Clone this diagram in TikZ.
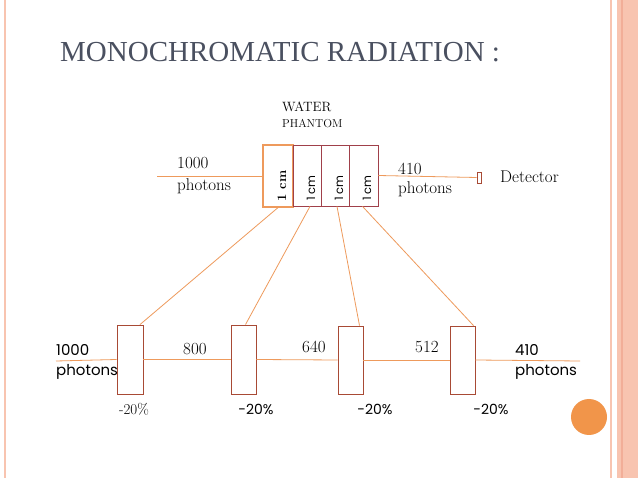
\documentclass[tikz,border=0pt]{standalone}
\usepackage{fontspec}
\newfontfamily\gsans{Poppins}
\newfontfamily\tser{Liberation Serif}
\begin{document}
\begin{tikzpicture}[x=1pt,y=-1pt,
  ray/.style={draw=lineor,line width=0.8pt},
  slab/.style={draw=slabc,line width=0.9pt},
  lbl/.style={inner sep=0pt,anchor=base west,font=\fontsize{17}{19}\selectfont},
  slbl/.style={inner sep=0pt,anchor=base west,font=\gsans\fontsize{15}{17}\selectfont},
  cmlbl/.style={rotate=90,inner sep=0pt,font=\gsans\fontsize{11.5}{13}\selectfont}]
\definecolor{lineor}{HTML}{EE9A5C}
\definecolor{slabc}{HTML}{A84A35}
\definecolor{redc}{HTML}{A0404A}
\definecolor{ttl}{HTML}{4A5060}
\definecolor{bord}{HTML}{F8C4B0}
\definecolor{bord2}{HTML}{F2AE98}
\useasboundingbox (0,0) rectangle (638,478);
\fill[white] (0,0) rectangle (638,478);
% borders
\draw[bord,line width=1.5pt] (5,0) -- (5,478);
\draw[bord,line width=1.5pt] (611,0) -- (611,478);
\fill[bord] (617,0) rectangle (638,478);
\draw[bord2,line width=1.5pt] (622,0) -- (622,478);
% title
\node[anchor=base west,inner sep=0pt,text=ttl,font=\tser\fontsize{29}{32}\selectfont] (title) at (60,62) {MONOCHROMATIC RADIATION :};
\node[anchor=base west,inner sep=0pt,font=\fontsize{13.5}{15}\selectfont] (wp1) at (282,112) {WATER};
\node[anchor=base west,inner sep=0pt,font=\fontsize{11.5}{13}\selectfont] (wp2) at (282,128) {PHANTOM};
% phantom slabs
\node[draw=lineor,line width=1.2pt,minimum width=30pt,minimum height=62pt,inner sep=0pt] (p1) at (278,176) {};
\node[draw=redc,line width=0.8pt,minimum width=28pt,minimum height=61pt,inner sep=0pt] (p2) at (307,175.5) {};
\node[draw=redc,line width=0.8pt,minimum width=28pt,minimum height=61pt,inner sep=0pt] (p3) at (335,175.5) {};
\node[draw=redc,line width=0.8pt,minimum width=29pt,minimum height=61pt,inner sep=0pt] (p4) at (363.5,175.5) {};
\node[rotate=90,inner sep=0pt,font=\bfseries\fontsize{13}{15}\selectfont] (c1) at (282,186) {1 cm};
\node[cmlbl] (c2) at (311,188) {1 cm};
\node[cmlbl] (c3) at (339,188) {1 cm};
\node[cmlbl] (c4) at (367,188) {1 cm};
\coordinate (inL) at (157,176);
\draw[ray] (inL) -- (p1.west);
\node[draw=slabc,line width=0.8pt,minimum width=4pt,minimum height=11pt,inner sep=0pt] (det) at (479,177.5) {};
\draw[ray] (p4.east) -- (det.west);
\node[lbl] (a1) at (177,169) {1000};
\node[lbl] (a2) at (177,191) {photons};
\node[lbl] (b1) at (398,175) {410};
\node[lbl] (b2) at (398,194) {photons};
\node[lbl] (dt) at (500,183) {Detector};
% lower slabs
\node[slab,minimum width=26pt,minimum height=69pt,inner sep=0pt] (s1) at (130,359.5) {};
\node[slab,minimum width=25pt,minimum height=69pt,inner sep=0pt] (s2) at (243.5,359.5) {};
\node[slab,minimum width=25pt,minimum height=68pt,inner sep=0pt] (s3) at (350.5,360) {};
\node[slab,minimum width=25pt,minimum height=68pt,inner sep=0pt] (s4) at (462.5,360) {};
\coordinate (L0) at (56,361);
\coordinate (R0) at (580,361);
\draw[ray] (L0) -- (s1.west);
\draw[ray] (s1.east) -- (s2.west);
\draw[ray] (s2.east) -- (s3.west);
\draw[ray] (s3.east) -- (s4.west);
\draw[ray] (s4.east) -- (R0);
% connecting rays
\draw[ray] (p1.south) -- ([xshift=10pt]s1.north);
\draw[ray] ([xshift=3pt]p2.south) -- ([xshift=2pt]s2.north);
\draw[ray] ([xshift=2pt]p3.south) -- ([xshift=9pt]s3.north);
\draw[ray] ([xshift=-1pt]p4.south) -- ([xshift=11pt]s4.north);
% labels
\node[slbl] (l1) at (56,356) {1000};
\node[slbl] (l2) at (56,376) {photons};
\node[lbl] (n1) at (183,355) {800};
\node[lbl] (n2) at (302,353) {640};
\node[lbl] (n3) at (415,353) {512};
\node[slbl] (r1) at (515,356) {410};
\node[slbl] (r2) at (515,376) {photons};
\node[inner sep=0pt,font=\fontsize{15}{17}\selectfont] (d1) at (134,409) {-20\%};
\node[inner sep=0pt,font=\gsans\fontsize{14}{16}\selectfont] (d2) at (256,409) {-20\%};
\node[inner sep=0pt,font=\gsans\fontsize{14}{16}\selectfont] (d3) at (375,409) {-20\%};
\node[inner sep=0pt,font=\gsans\fontsize{14}{16}\selectfont] (d4) at (491,409) {-20\%};
\fill[lineor!80!orange] (589,417) circle (18);
\end{tikzpicture}
\end{document}
